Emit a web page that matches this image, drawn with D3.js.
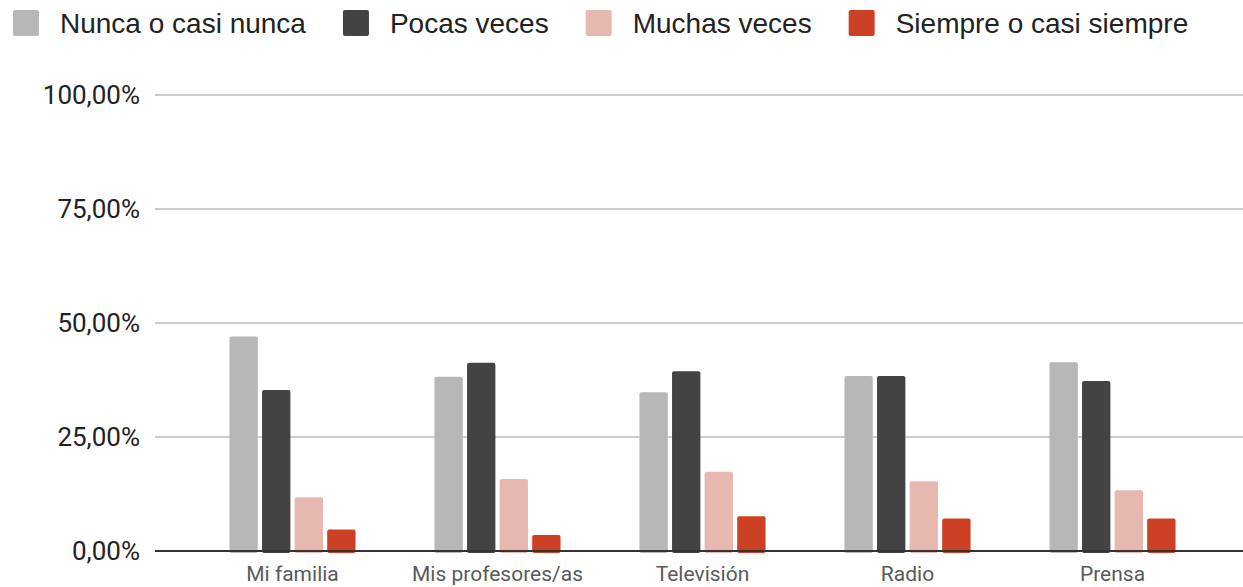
<!DOCTYPE html>
<html>
<head>
<meta charset="utf-8">
<script src="https://cdn.jsdelivr.net/npm/d3@7"></script>
<style>
  html, body { margin: 0; padding: 0; background: #fff; }
  svg { display: block; font-family: Roboto, "Noto Sans", sans-serif; }
</style>
</head>
<body>
<div id="chart"></div>
<script>
const categories = ['Mi familia', 'Mis profesores/as', 'Televisión', 'Radio', 'Prensa'];
const seriesNames = ['Nunca o casi nunca', 'Pocas veces', 'Muchas veces', 'Siempre o casi siempre'];
const nunca = [47.06, 38.24, 34.8, 38.4, 41.4];
const pocas = [35.29, 41.3, 39.4, 38.4, 37.3];
const muchas = [11.8, 15.8, 17.4, 15.3, 13.3];
const siempre = [4.7, 3.5, 7.6, 7.1, 7.1];
const yTicks = [0, 25, 50, 75, 100];
const colors = ['#b7b7b7', '#434343', '#e6b8af', '#cc4125'];

const width = 1243, height = 587;
const seriesValues = [nunca, pocas, muchas, siempre];

const data = categories.map((category, i) => ({
  category,
  values: seriesNames.map((key, j) => ({ key, value: seriesValues[j][i] }))
}));

const svg = d3.select('#chart')
  .append('svg')
  .attr('width', width)
  .attr('height', height);

const color = d3.scaleOrdinal().domain(seriesNames).range(colors);

// scales
const x0 = d3.scaleBand()
  .domain(categories)
  .range([190, 1215])
  .paddingInner(0.385)
  .paddingOuter(0.1925);

const x1 = d3.scaleBand()
  .domain(seriesNames)
  .range([0, x0.bandwidth()])
  .paddingInner(0.13)
  .paddingOuter(0);

const y = d3.scaleLinear()
  .domain([0, 100])
  .range([551, 95]);

// gridlines + y labels
const grid = svg.append('g');
grid.selectAll('line')
  .data(yTicks.filter(d => d > 0))
  .enter().append('line')
  .attr('x1', 155).attr('x2', width)
  .attr('y1', d => y(d)).attr('y2', d => y(d))
  .attr('stroke', '#cccccc')
  .attr('stroke-width', 2);

const fmt = d => d3.format('.2f')(d).replace('.', ',') + '%';
grid.selectAll('text')
  .data(yTicks)
  .enter().append('text')
  .attr('x', 140)
  .attr('y', d => y(d))
  .attr('dy', '0.36em')
  .attr('text-anchor', 'end')
  .attr('font-size', 26)
  .attr('fill', '#222')
  .text(fmt);

// bars
const groups = svg.append('g')
  .selectAll('g')
  .data(data)
  .enter().append('g')
  .attr('transform', d => `translate(${x0(d.category)},0)`);

groups.selectAll('rect')
  .data(d => d.values)
  .enter().append('rect')
  .attr('x', d => x1(d.key))
  .attr('y', d => y(d.value))
  .attr('width', x1.bandwidth())
  .attr('height', d => y(0) - y(d.value) + 2)
  .attr('rx', 2)
  .attr('fill', d => color(d.key));

// baseline
svg.append('line')
  .attr('x1', 155).attr('x2', width)
  .attr('y1', y(0)).attr('y2', y(0))
  .attr('stroke', '#333')
  .attr('stroke-width', 2);

// x axis labels
svg.append('g')
  .selectAll('text')
  .data(categories)
  .enter().append('text')
  .attr('x', d => x0(d) + x0.bandwidth() / 2)
  .attr('y', 581)
  .attr('text-anchor', 'middle')
  .attr('font-size', 21)
  .attr('fill', '#5a5a5a')
  .text(d => d);

// legend
const legend = svg.append('g');
let lx = 13;
seriesNames.forEach((name, i) => {
  legend.append('rect')
    .attr('x', lx).attr('y', 10)
    .attr('width', 26).attr('height', 26)
    .attr('rx', 2)
    .attr('fill', colors[i]);
  const t = legend.append('text')
    .attr('x', lx + 47).attr('y', 33)
    .attr('font-family', '"Liberation Sans", Arial, sans-serif')
    .attr('font-size', 28)
    .attr('fill', '#222')
    .text(name);
  lx += 47 + t.node().getComputedTextLength() + 37;
});
</script>
</body>
</html>
